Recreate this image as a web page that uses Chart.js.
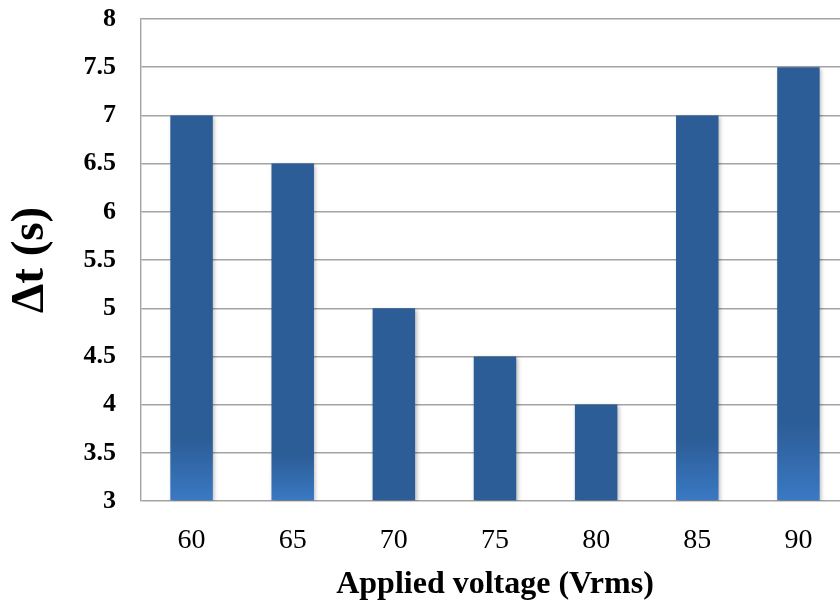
<!DOCTYPE html>
<html>
<head>
<meta charset="utf-8">
<script src="https://cdn.jsdelivr.net/npm/chart.js@4/dist/chart.umd.min.js"></script>
<style>
  html, body { margin: 0; padding: 0; background: #fff; overflow: hidden; }
  #wrap { width: 849px; height: 608px; position: relative; }
</style>
</head>
<body>
<div id="wrap"><canvas id="c"></canvas></div>
<script>
// Delay time versus applied voltage
const voltages = ['60', '65', '70', '75', '80', '85', '90'];
const deltaT = [7, 6.5, 5, 4.5, 4, 7, 7.5];
const yTicks = [3, 3.5, 4, 4.5, 5, 5.5, 6, 6.5, 7, 7.5, 8];

const DARK = 'rgb(44, 93, 151)';
const LIGHT = 'rgb(58, 121, 196)';
const SERIF = '"Liberation Serif", "Times New Roman", serif';

// Tall bars fade to a lighter blue near their base
function barFill(context) {
  const chart = context.chart;
  const { ctx, chartArea, scales } = chart;
  if (!chartArea || context.type !== 'data') return DARK;
  const v = context.raw;
  const yBase = scales.y.getPixelForValue(3);
  const yTop = scales.y.getPixelForValue(v);
  const h = yBase - yTop;
  const light = Math.max(0, (h - 200) * 0.33);
  if (light <= 0) return DARK;
  const g = ctx.createLinearGradient(0, yBase - light, 0, yBase);
  g.addColorStop(0, DARK);
  g.addColorStop(1, LIGHT);
  return g;
}

const barShadow = {
  id: 'barShadow',
  beforeDatasetsDraw(chart) {
    const ctx = chart.ctx;
    ctx.save();
    ctx.shadowColor = 'rgba(0,0,0,0.28)';
    ctx.shadowBlur = 4;
    ctx.shadowOffsetX = 1.5;
    ctx.shadowOffsetY = 1.5;
  },
  afterDatasetsDraw(chart) {
    chart.ctx.restore();
  }
};

new Chart(document.getElementById('c'), {
  type: 'bar',
  data: {
    labels: voltages,
    datasets: [{
      data: deltaT,
      backgroundColor: barFill,
      borderWidth: 0,
      barPercentage: 0.42,
      categoryPercentage: 1.0,
      base: 3
    }]
  },
  plugins: [barShadow],
  options: {
    responsive: true,
    maintainAspectRatio: false,
    animation: false,
    layout: { padding: { top: 19, right: 0, left: 0, bottom: 0 } },
    plugins: { legend: { display: false }, tooltip: { enabled: false } },
    scales: {
      x: {
        grid: { display: false, drawTicks: false },
        border: { display: false },
        ticks: {
          color: '#000',
          padding: 23,
          font: { family: SERIF, size: 28 }
        },
        title: {
          display: true,
          text: 'Applied voltage (Vrms)',
          color: '#000',
          padding: { top: 0, bottom: 4 },
          font: { family: SERIF, size: 32, weight: 'bold' }
        },
        afterFit(scale) {
          scale.height = 107;
          scale.paddingLeft = 0;
          scale.paddingRight = 0;
        }
      },
      y: {
        min: 3,
        max: 8,
        afterBuildTicks(scale) { scale.ticks = yTicks.map(v => ({ value: v })); },
        grid: { color: '#a3a3a3', lineWidth: 1.4, drawTicks: false },
        border: { display: true, color: '#a3a3a3', width: 1.4 },
        ticks: {
          color: '#000',
          padding: 25,
          callback: v => String(v),
          font: { family: SERIF, size: 26, weight: 'bold' }
        },
        title: {
          display: true,
          text: 'Δt (s)',
          color: '#000',
          padding: { top: 3, bottom: 0 },
          font: { family: SERIF, size: 47, weight: 'bold' }
        },
        afterFit(scale) {
          scale.width = 141;
          scale.paddingTop = 0;
          scale.paddingBottom = 0;
        }
      }
    }
  }
});
</script>
</body>
</html>
